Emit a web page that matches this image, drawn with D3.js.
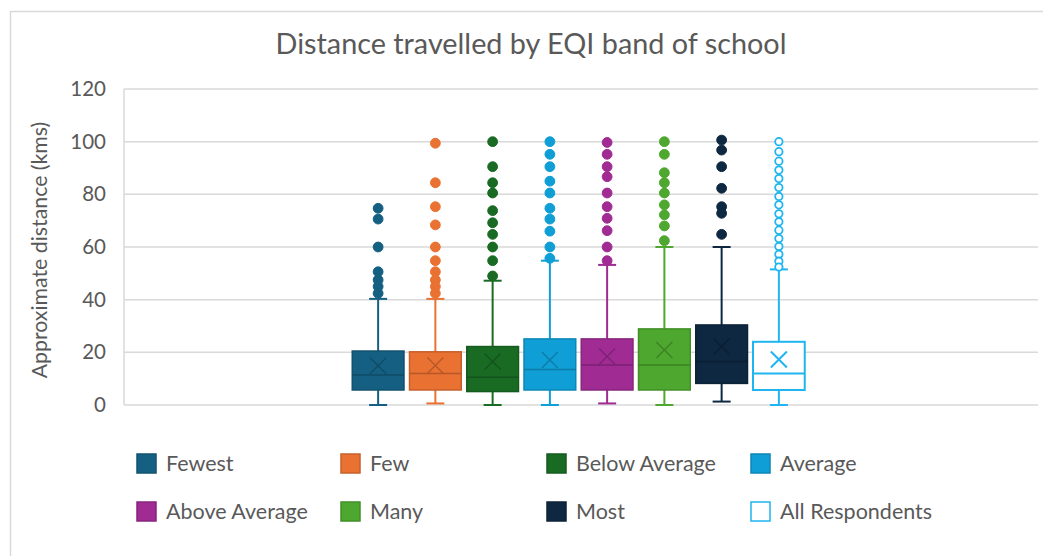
<!DOCTYPE html>
<html>
<head>
<meta charset="utf-8">
<script src="https://cdn.jsdelivr.net/npm/d3@7"></script>
<style>
  html, body { margin: 0; padding: 0; background: #fff; }
  svg { display: block; font-family: Lato, "Noto Sans", sans-serif; }
</style>
</head>
<body>
<svg id="chart" width="1043" height="556"></svg>
<script>
// Series (EQI bands) and their colours
const seriesNames = ["Fewest", "Few", "Below Average", "Average", "Above Average", "Many", "Most", "All Respondents"];
const seriesColors = ["#156082", "#E97132", "#196B24", "#0F9ED5", "#A02B93", "#4EA72E", "#0E2841", "#1FB5F0"];
const hollowSeries = ["All Respondents"];

// Box-plot statistics, km
const whiskerLow  = [0,    0.6,  0,    0,    0.6,  0,    1.3,  0];
const q1          = [5.7,  5.7,  5.1,  5.7,  5.7,  5.7,  8.2,  5.7];
const median      = [11.4, 12.0, 10.5, 13.5, 15.2, 15.2, 16.5, 12.0];
const q3          = [20.5, 20.2, 22.2, 25.1, 25.1, 28.9, 30.4, 24.0];
const mean        = [14.9, 15.0, 16.5, 17.1, 18.4, 20.9, 22.2, 17.3];
const whiskerHigh = [40.3, 40.3, 47.2, 54.8, 53.2, 60.0, 60.0, 51.5];

// Outlying journeys per band, km
const outliersFewest = [74.7, 70.6, 60.0, 50.6, 47.5, 45.0, 42.4];
const outliersFew = [99.4, 84.4, 75.3, 68.4, 60.0, 54.8, 50.6, 47.5, 45.0, 42.4];
const outliersBelowAverage = [100, 90.5, 84.4, 80.5, 73.8, 69.2, 64.8, 60.0, 54.8, 49.0];
const outliersAverage = [100, 95.2, 90.5, 85.0, 80.5, 74.7, 70.6, 66.0, 60.0, 55.7];
const outliersAboveAverage = [99.7, 95.2, 90.5, 86.7, 80.5, 75.3, 70.9, 66.2, 60.0, 54.8];
const outliersMany = [100, 95.2, 88.2, 84.4, 80.5, 76.0, 72.2, 68.0, 62.4];
const outliersMost = [100.6, 96.8, 90.5, 82.3, 75.3, 72.8, 64.8];
const outliersAll = [100, 96.2, 92.6, 89.2, 86.0, 82.6, 79.2, 76.0, 72.6, 69.6, 66.4, 63.2, 60.2, 57.2, 54.6, 52.4];
const outliers = [outliersFewest, outliersFew, outliersBelowAverage, outliersAverage,
                  outliersAboveAverage, outliersMany, outliersMost, outliersAll];

// Axis
const yTicks = [0, 20, 40, 60, 80, 100, 120];
const chartTitle = "Distance travelled by EQI band of school";
const yTitle = "Approximate distance (kms)";

const textColor = "#595959";
const gridColor = "#D9D9D9";

const svg = d3.select("#chart");

// Outer chart frame
svg.append("rect")
  .attr("x", 10.5).attr("y", 11.5)
  .attr("width", 1100).attr("height", 600)
  .attr("fill", "#fff").attr("stroke", gridColor).attr("stroke-width", 1.5);

const plot = { left: 124, right: 1038, top: 89, bottom: 405 };

const y = d3.scaleLinear().domain([0, 120]).range([plot.bottom, plot.top]);

// Single category; the series cluster sits in the middle of the plot
const cluster = { left: 351.5, right: 805.5 };
const x = d3.scaleBand()
  .domain(seriesNames)
  .range([cluster.left, cluster.right])
  .paddingInner(0.07)
  .paddingOuter(0);

// Horizontal gridlines
svg.append("g")
  .selectAll("line")
  .data(yTicks)
  .join("line")
  .attr("x1", plot.left).attr("x2", plot.right)
  .attr("y1", d => y(d)).attr("y2", d => y(d))
  .attr("stroke", gridColor).attr("stroke-width", 1.5);

// Left edge line of the category
svg.append("line")
  .attr("x1", plot.left).attr("x2", plot.left)
  .attr("y1", plot.top).attr("y2", plot.bottom)
  .attr("stroke", gridColor).attr("stroke-width", 1.5);

// Y axis labels
const yAxis = d3.axisLeft(y).tickValues(yTicks).tickSize(0).tickPadding(18);
const yAxisG = svg.append("g").attr("transform", `translate(${plot.left},0)`).call(yAxis);
yAxisG.select(".domain").remove();
yAxisG.selectAll("text")
  .attr("fill", textColor)
  .style("font-size", "20.5px")
  .style("font-family", "Lato, sans-serif");

// Y axis title
svg.append("text")
  .attr("transform", `translate(47,${(plot.top + plot.bottom) / 2 + 3}) rotate(-90)`)
  .attr("text-anchor", "middle")
  .attr("fill", textColor)
  .style("font-size", "21.3px")
  .text(yTitle);

// Chart title
svg.append("text")
  .attr("x", 531).attr("y", 54)
  .attr("text-anchor", "middle")
  .attr("fill", textColor)
  .style("font-size", "28.8px")
  .text(chartTitle);

// Box plots
const bw = x.bandwidth();
const capW = 18;
const markR = 4.9;
const series = seriesNames.map((name, i) => ({
  name, color: seriesColors[i], hollow: hollowSeries.includes(name),
  lo: whiskerLow[i], q1: q1[i], med: median[i], q3: q3[i], mean: mean[i], hi: whiskerHigh[i],
  out: outliers[i]
}));

const boxes = svg.append("g").selectAll("g")
  .data(series)
  .join("g")
  .attr("transform", d => `translate(${x(d.name)},0)`);

boxes.each(function(d) {
  const g = d3.select(this);
  const cx = bw / 2;
  const edge = d.hollow ? d.color : d3.color(d.color).darker(0.45).formatHex();
  const inner = d.hollow ? d.color : d3.color(d.color).darker(0.7).formatHex();

  // whiskers
  [[d.q3, d.hi], [d.q1, d.lo]].forEach(([a, b]) => {
    g.append("line").attr("x1", cx).attr("x2", cx)
      .attr("y1", y(a)).attr("y2", y(b))
      .attr("stroke", d.color).attr("stroke-width", 2);
    g.append("line").attr("x1", cx - capW / 2).attr("x2", cx + capW / 2)
      .attr("y1", y(b)).attr("y2", y(b))
      .attr("stroke", d.color).attr("stroke-width", 2);
  });

  // box
  g.append("rect")
    .attr("x", 0.75).attr("width", bw - 1.5)
    .attr("y", y(d.q3)).attr("height", y(d.q1) - y(d.q3))
    .attr("fill", d.hollow ? "#fff" : d.color)
    .attr("stroke", edge).attr("stroke-width", d.hollow ? 2 : 1.5);

  // median
  g.append("line").attr("x1", 0.75).attr("x2", bw - 0.75)
    .attr("y1", y(d.med)).attr("y2", y(d.med))
    .attr("stroke", inner).attr("stroke-width", d.hollow ? 2 : 1.5);

  // mean marker (X)
  const m = 8, my = y(d.mean);
  g.append("path")
    .attr("d", `M${cx - m},${my - m}L${cx + m},${my + m}M${cx - m},${my + m}L${cx + m},${my - m}`)
    .attr("stroke", inner).attr("stroke-width", d.hollow ? 2 : 1.3).attr("fill", "none");

  // outliers
  g.selectAll("circle")
    .data(d.out)
    .join("circle")
    .attr("cx", cx).attr("cy", v => y(v))
    .attr("r", d.hollow ? 3.7 : markR)
    .attr("fill", d.hollow ? "#fff" : d.color)
    .attr("stroke", d.color).attr("stroke-width", d.hollow ? 1.8 : 1);
});

// Legend
const legendCols = [136, 340, 546, 750];
const legendRows = [463, 511];
const legend = svg.append("g").selectAll("g")
  .data(series)
  .join("g")
  .attr("transform", (d, i) => `translate(${legendCols[i % 4]},${legendRows[Math.floor(i / 4)]})`);

legend.append("rect")
  .attr("x", 1).attr("y", -9).attr("width", 19).attr("height", 19)
  .attr("fill", d => d.hollow ? "#fff" : d.color)
  .attr("stroke", d => d.hollow ? d.color : d3.color(d.color).darker(0.45).formatHex())
  .attr("stroke-width", 1.5);

legend.append("text")
  .attr("x", 30).attr("y", 8)
  .attr("fill", textColor)
  .style("font-size", "21.5px")
  .text(d => d.name);
</script>
</body>
</html>
